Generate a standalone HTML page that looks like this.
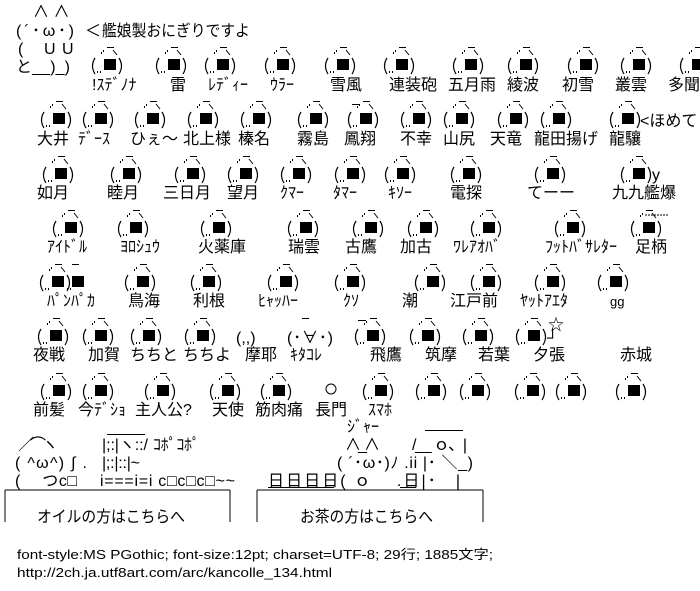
<!DOCTYPE html>
<html><head><meta charset="utf-8">
<style>
html,body{margin:0;padding:0;background:#fff;}
svg{display:block;}
text{font-family:"Liberation Sans","Noto Sans CJK JP",sans-serif;font-size:16px;fill:#000;}
.s{font-size:13px;}
</style></head><body>
<svg width="700" height="591" viewBox="0 0 700 591" xmlns="http://www.w3.org/2000/svg">
<defs>
<g id="o">
<rect x="0" y="0" width="12" height="11" fill="#000"/>
<path d="M-9,-1 Q-14,7 -9,15" fill="none" stroke="#000" stroke-width="1.2"/>
<path d="M15,-1 Q20,7 15,15" fill="none" stroke="#000" stroke-width="1.2"/>
<rect x="-7" y="12" width="1" height="2"/><rect x="-4" y="12" width="1" height="2"/>
<rect x="3" y="-12" width="7" height="1"/>
<rect x="-3" y="-7" width="1" height="2"/><rect x="-1" y="-9" width="1" height="2"/>
<path d="M9,-9 L13,-4" stroke="#000" stroke-width="1"/>
</g>
</defs>

<!-- cat -->
<text x="33" y="17">∧ ∧</text>
<text x="16" y="36" textLength="58" lengthAdjust="spacing">(´･ω･)</text>
<text x="85" y="36">＜</text>
<text x="102" y="36" textLength="148" lengthAdjust="spacingAndGlyphs">艦娘製おにぎりですよ</text>
<text x="18" y="54">(</text><text x="44" y="54">U</text><text x="62" y="54">U</text>
<text x="16" y="72" textLength="54" lengthAdjust="spacing">と__)_)</text>

<!-- row 0 sy=59 -->
<g>
<use href="#o" x="104" y="59"/><use href="#o" x="168" y="59"/><use href="#o" x="217" y="59"/>
<use href="#o" x="277" y="59"/><use href="#o" x="337" y="59"/><use href="#o" x="396" y="59"/>
<use href="#o" x="465" y="59"/><use href="#o" x="520" y="59"/><use href="#o" x="580" y="59"/>
<use href="#o" x="633" y="59"/><use href="#o" x="692" y="59"/>
<text x="92" y="90">!ｽﾃﾞﾉﾅ</text><text x="170" y="90">雷</text><text x="208" y="90">ﾚﾃﾞｨｰ</text>
<text x="270" y="90">ｳﾗｰ</text><text x="330" y="90">雪風</text><text x="389" y="90">連装砲</text>
<text x="448" y="90">五月雨</text><text x="507" y="90">綾波</text><text x="562" y="90">初雪</text>
<text x="615" y="90">叢雲</text><text x="668" y="90">多聞</text>
</g>

<!-- row 1 sy=113 -->
<g>
<use href="#o" x="53" y="113"/><use href="#o" x="95" y="113"/><use href="#o" x="147" y="113"/>
<use href="#o" x="200" y="113"/><use href="#o" x="253" y="113"/><use href="#o" x="310" y="113"/>
<use href="#o" x="360" y="113"/><rect x="352" y="104" width="8" height="1"/>
<use href="#o" x="413" y="113"/><use href="#o" x="456" y="113"/><use href="#o" x="510" y="113"/>
<use href="#o" x="553" y="113"/><use href="#o" x="622" y="113"/>
<text x="640" y="126">&lt;ほめて</text>
<text x="37" y="144">大井</text><text x="78" y="144">ﾃﾞｰｽ</text><text x="130" y="144">ひぇ～</text>
<text x="183" y="144">北上様</text><text x="238" y="144">榛名</text><text x="297" y="144">霧島</text>
<text x="344" y="144">鳳翔</text><text x="400" y="144">不幸</text><text x="443" y="144">山尻</text>
<text x="490" y="144">天竜</text><text x="534" y="144">龍田揚げ</text><text x="609" y="144">龍驤</text>
</g>

<!-- row 2 sy=168 -->
<g>
<use href="#o" x="55" y="168"/><use href="#o" x="123" y="168"/><use href="#o" x="187" y="168"/>
<use href="#o" x="240" y="168"/><use href="#o" x="293" y="168"/><use href="#o" x="347" y="168"/>
<use href="#o" x="397" y="168"/><use href="#o" x="463" y="168"/><use href="#o" x="547" y="168"/>
<use href="#o" x="633" y="168"/>
<text x="652" y="180">y</text>
<text x="37" y="198">如月</text><text x="107" y="198">睦月</text><text x="163" y="198">三日月</text>
<text x="227" y="198">望月</text><text x="280" y="198">ｸﾏｰ</text><text x="333" y="198">ﾀﾏｰ</text>
<text x="388" y="198">ｷｿｰ</text><text x="450" y="198">電探</text><text x="527" y="198">てーー</text>
<text x="612" y="198">九九艦爆</text>
</g>

<!-- row 3 sy=222 -->
<g>
<use href="#o" x="65" y="222"/><use href="#o" x="130" y="222"/><use href="#o" x="213" y="222"/>
<use href="#o" x="300" y="222"/><use href="#o" x="365" y="222"/><use href="#o" x="420" y="222"/>
<use href="#o" x="483" y="222"/><use href="#o" x="567" y="222"/><use href="#o" x="643" y="222"/>
<path d="M645,215 H668" stroke="#000" stroke-dasharray="2,1"/>
<text x="47" y="252">ｱｲﾄﾞﾙ</text><text x="120" y="252">ﾖﾛｼｭｳ</text><text x="198" y="252">火薬庫</text>
<text x="288" y="252">瑞雲</text><text x="345" y="252">古鷹</text><text x="400" y="252">加古</text>
<text x="453" y="252">ﾜﾚｱｵﾊﾞ</text><text x="545" y="252">ﾌｯﾄﾊﾞｻﾚﾀｰ</text><text x="635" y="252">足柄</text>
</g>

<!-- row 4 sy=276 -->
<g>
<use href="#o" x="52" y="276"/><rect x="72" y="276" width="12" height="11"/>
<rect x="67" y="288" width="1" height="2"/><rect x="70" y="288" width="1" height="2"/>
<rect x="72" y="264" width="7" height="1"/>
<use href="#o" x="137" y="276"/><use href="#o" x="203" y="276"/>
<use href="#o" x="280" y="276"/><use href="#o" x="347" y="276"/><use href="#o" x="427" y="276"/>
<use href="#o" x="483" y="276"/><use href="#o" x="547" y="276"/><use href="#o" x="610" y="276"/>
<text x="47" y="306">ﾊﾟﾝﾊﾟｶ</text><text x="128" y="306">鳥海</text><text x="193" y="306">利根</text>
<text x="258" y="306">ﾋｬｯﾊｰ</text><text x="343" y="306">ｸｿ</text><text x="402" y="306">潮</text>
<text x="450" y="306">江戸前</text><text x="520" y="306">ﾔｯﾄｱｴﾀ</text><text x="610" y="306" class="s">gg</text>
</g>

<!-- row 5 sy=330 -->
<g>
<use href="#o" x="50" y="330"/><use href="#o" x="95" y="330"/><use href="#o" x="143" y="330"/>
<use href="#o" x="197" y="330"/>
<text x="236" y="343">(,,)</text>
<text x="287" y="343" textLength="46" lengthAdjust="spacing">(･∀･)</text>
<rect x="302" y="318" width="7" height="1"/>
<use href="#o" x="367" y="330"/><rect x="358" y="320" width="8" height="1"/>
<use href="#o" x="422" y="330"/><use href="#o" x="475" y="330"/><use href="#o" x="528" y="330"/>
<text x="547" y="343">┘</text><text x="548" y="330">☆</text>
<text x="33" y="360">夜戦</text><text x="88" y="360">加賀</text><text x="130" y="360">ちちと</text>
<text x="183" y="360">ちちよ</text><text x="245" y="360">摩耶</text><text x="290" y="360">ｷﾀｺﾚ</text>
<text x="370" y="360">飛鷹</text><text x="425" y="360">筑摩</text><text x="478" y="360">若葉</text>
<text x="533" y="360">夕張</text><text x="620" y="360">赤城</text>
</g>

<!-- row 6 sy=385 -->
<g>
<use href="#o" x="53" y="385"/><use href="#o" x="95" y="385"/><use href="#o" x="157" y="385"/>
<use href="#o" x="222" y="385"/><use href="#o" x="273" y="385"/>
<circle cx="331" cy="389" r="5" fill="none" stroke="#000"/>
<use href="#o" x="375" y="385"/><use href="#o" x="428" y="385"/><use href="#o" x="472" y="385"/>
<use href="#o" x="527" y="385"/><use href="#o" x="568" y="385"/><use href="#o" x="628" y="385"/>
<text x="33" y="415">前髪</text><text x="78" y="415">今ﾃﾞｼｮ</text><text x="135" y="415">主人公?</text>
<text x="212" y="415">天使</text><text x="255" y="415">筋肉痛</text><text x="315" y="415">長門</text>
<text x="368" y="415">ｽﾏﾎ</text>
</g>

<!-- bottom art -->
<text x="347" y="432">ｼﾞｬｰ</text>
<text x="18" y="450" textLength="40" lengthAdjust="spacing">／⌒ヽ</text>
<rect x="107" y="434" width="38" height="1"/>
<text x="102" y="450" textLength="46" lengthAdjust="spacing">|;:|ヽ::/</text>
<text x="153" y="450" textLength="47" lengthAdjust="spacing">ｺﾎﾟｺﾎﾟ</text>
<text x="15" y="468" textLength="72" lengthAdjust="spacing">( ^ω^) ∫ .</text>
<text x="102" y="468" textLength="38" lengthAdjust="spacing">|;:|::|~</text>
<text x="15" y="486" textLength="62" lengthAdjust="spacing">(　 つc□</text>
<text x="100" y="486" textLength="135" lengthAdjust="spacing">i===i=i c□c□c□~~</text>

<text x="345" y="450" textLength="35" lengthAdjust="spacing">∧_∧</text>
<text x="412" y="450" textLength="55" lengthAdjust="spacing">/__ ｏ、|</text>
<rect x="425" y="430" width="38" height="1"/>
<text x="337" y="468" textLength="136" lengthAdjust="spacing">( ´･ω･)ﾉ .ii |･ ＼_)</text>
<text x="268" y="486" textLength="192" lengthAdjust="spacing">日日日日( ｏ　 .日|･　|</text>
<rect x="268" y="487" width="66" height="1"/><rect x="400" y="487" width="16" height="1"/>

<!-- boxes -->
<path d="M5,490 H230 M5,490 V522 M230,490 V522" stroke="#000" fill="none"/>
<text x="37" y="522" textLength="148" lengthAdjust="spacingAndGlyphs">オイルの方はこちらへ</text>
<path d="M257,490 H483 M257,490 V522 M483,490 V522" stroke="#000" fill="none"/>
<text x="300" y="522" textLength="133" lengthAdjust="spacingAndGlyphs">お茶の方はこちらへ</text>

<!-- footer -->
<text x="17" y="559" class="s" textLength="476" lengthAdjust="spacingAndGlyphs">font-style:MS PGothic; font-size:12pt; charset=UTF-8; 29行; 1885文字;</text>
<text x="17" y="577" class="s" textLength="315" lengthAdjust="spacingAndGlyphs">http://2ch.ja.utf8art.com/arc/kancolle_134.html</text>
</svg>
</body></html>
